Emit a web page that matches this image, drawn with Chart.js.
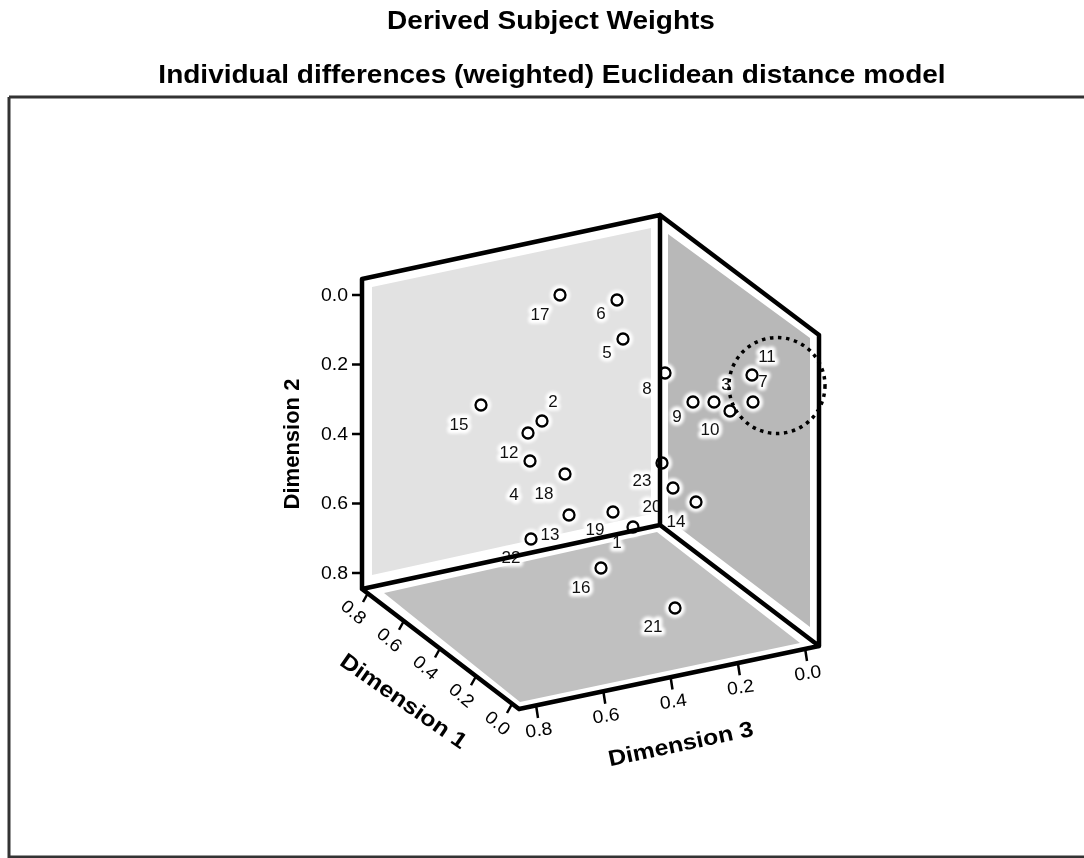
<!DOCTYPE html>
<html>
<head>
<meta charset="utf-8">
<style>html,body{margin:0;padding:0;background:#fff;overflow:hidden}canvas{display:block}</style>
<script src="https://cdn.jsdelivr.net/npm/chart.js@4"></script>
</head>
<body>
<canvas id="c" width="1084" height="858"></canvas>
<script>
// ---- data (subject number, position in the projected drawing plane) ----
const subjects = [1,2,3,4,5,6,7,8,9,10,11,12,13,14,15,16,17,18,19,20,21,22,23];
const planeX = [633,542,714,530,623,617,753,665,693,730,752,528,569,696,481,601,560,565,613,673,675,531,662];
const planeY = [527,421,402,461,339,300,402,373,402,411,375,433,515,502,405,568,295,474,512,488,608,539,463];
const labelDx = [-16,11,12,-16,-16,-16,10,-18,-16,-20,15,-19,-19,-20,-22,-20,-20,-21,-18,-21,-22,-20,-20];
const labelDy = [16,-19,-17,34,14,14,-20,16,15,19,-18,20,20,20,20,20,20,20,18,19,19,19,18];
const ticksDim1 = [0.8,0.6,0.4,0.2,0.0];
const ticksDim2 = [0.0,0.2,0.4,0.6,0.8];
const ticksDim3 = [0.8,0.6,0.4,0.2,0.0];
const titleLines = ['Derived Subject Weights','Individual differences (weighted) Euclidean distance model'];
const highlightX = [777];
const highlightY = [385.5];

// ---- projected geometry of the box ----
const C = {tl:[362,279], bl:[362,589], bt:[660,215], bb:[660,525], rt:[819,335], rb:[819,646], f:[519,709]};
const wallL = [[372,287],[651,228],[651,514],[372,575]];
const wallR = [[668,234],[810,338],[810,627],[668,519]];
const floorP = [[384,593],[657,532],[800,643],[520,702]];
const pageBox = [[9,97],[1086,97],[1086,857],[9,857],[9,97]];
const axis1 = {a:[512,704], b:[368,593], out:[-5,9], lab:[-15,20], rot:40};
const axis2 = {a:[362,295], b:[362,573], out:[-10,0]};
const axis3 = {a:[805,648], b:[536,705], out:[2,13], lab:[3,26], rot:-8};
const lerp=(p,q,t)=>[p[0]+(q[0]-p[0])*t,p[1]+(q[1]-p[1])*t];
const tickFrac=v=>v/0.8;
const pts=a=>a.map(p=>({x:p[0],y:p[1]}));
const closed=a=>pts(a.concat([a[0]]));

const frameSegs=[[C.tl,C.bl],[C.tl,C.bt],[C.bt,C.bb],[C.bt,C.rt],[C.rt,C.rb],[C.bl,C.bb],[C.bb,C.rb],[C.bl,C.f],[C.f,C.rb]];
const framePts=[];
frameSegs.forEach(s=>{framePts.push({x:s[0][0],y:s[0][1]},{x:s[1][0],y:s[1][1]},{x:null,y:null});});
const tickPts=[];
[[axis1,ticksDim1],[axis2,ticksDim2],[axis3,ticksDim3]].forEach(([ax,tk])=>{
  tk.forEach(v=>{const p=lerp(ax.a,ax.b,tickFrac(v));
    tickPts.push({x:p[0],y:p[1]},{x:p[0]+ax.out[0],y:p[1]+ax.out[1]},{x:null,y:null});});
});

const panel=(a,color,order)=>({type:'scatter',data:closed(a),showLine:true,fill:'shape',backgroundColor:color,borderWidth:0,pointRadius:0,order,blur:1.2});
const line=(data,width,order,extra)=>Object.assign({type:'scatter',data,showLine:true,spanGaps:false,borderColor:'#000',borderWidth:width,pointRadius:0,fill:false,tension:0,borderCapStyle:'round'},{order},extra||{});

const xy=planeX.map((x,i)=>({x,y:planeY[i]}));

const textPlugin={
  id:'chartText',
  afterDatasetDraw(chart,args){
    if(chart.data.datasets[args.index].id!=='halo')return;
    const ctx=chart.ctx,sx=chart.scales.x,sy=chart.scales.y;
    ctx.save();
    ctx.font='17px "Liberation Sans",Arial,sans-serif';
    ctx.textAlign='center';ctx.textBaseline='middle';
    ctx.lineJoin='round';
    subjects.forEach((s,i)=>{
      const px=sx.getPixelForValue(planeX[i]+labelDx[i]),py=sy.getPixelForValue(planeY[i]+labelDy[i]);
      ctx.filter='blur(1.5px)';ctx.strokeStyle='#fff';ctx.lineWidth=7;ctx.strokeText(String(s),px,py);
      ctx.filter='none';ctx.fillStyle='#111';ctx.fillText(String(s),px,py);
    });
    ctx.restore();
  },
  beforeDatasetDraw(chart,args){
    const d=chart.data.datasets[args.index],ctx=chart.ctx;
    ctx.save();
    if(d.blur)ctx.filter='blur('+d.blur+'px)';
    if(d.dash)ctx.setLineDash(d.dash);
  },
  afterDraw(chart){
    const ctx=chart.ctx,sx=chart.scales.x,sy=chart.scales.y;
    const T=(t,x,y,rot,font,align,stretch)=>{ctx.save();ctx.translate(sx.getPixelForValue(x),sy.getPixelForValue(y));ctx.rotate(rot*Math.PI/180);
      if(stretch)ctx.scale(stretch,1);
      ctx.font=font;ctx.textAlign=align||'center';ctx.textBaseline='middle';ctx.fillStyle='#000';ctx.fillText(t,0,0);ctx.restore();};
    const tf='18px "Liberation Sans",Arial,sans-serif';
    ticksDim2.forEach(v=>{const p=lerp(axis2.a,axis2.b,tickFrac(v));T(v.toFixed(1),p[0]-14,p[1]+1,0,tf,'right',1.08);});
    ticksDim1.forEach(v=>{const p=lerp(axis1.a,axis1.b,tickFrac(v));T(v.toFixed(1),p[0]+axis1.lab[0],p[1]+axis1.lab[1],axis1.rot,tf,'center',1.08);});
    ticksDim3.forEach(v=>{const p=lerp(axis3.a,axis3.b,tickFrac(v));T(v.toFixed(1),p[0]+axis3.lab[0],p[1]+axis3.lab[1],axis3.rot,tf,'center',1.08);});
    const af='bold 22px "Liberation Sans",Arial,sans-serif';
    T('Dimension 2',293,444,-90,af);
    T('Dimension 1',403,702,35,af,'center',1.14);
    T('Dimension 3',681,745,-12,af,'center',1.13);
    const hf='bold 25px "Liberation Sans",Arial,sans-serif';
    T(titleLines[0],551,22,0,hf,'center',1.12);
    T(titleLines[1],552,76,0,hf,'center',1.12);
  }
};
const restorePlugin={
  id:'restoreCtx',
  afterDatasetDraw(chart){chart.ctx.restore();}
};

new Chart(document.getElementById('c'),{
  type:'scatter',
  data:{datasets:[
    line(pts(pageBox),3,1,{borderColor:'#333',borderCapStyle:'butt',label:'page'}),
    {id:'highlight',data:highlightX.map((x,i)=>({x,y:highlightY[i]})),pointRadius:48,pointStyle:'circle',pointBackgroundColor:'rgba(0,0,0,0)',pointBorderColor:'#000',pointBorderWidth:3.5,showLine:false,order:2,dash:[3.5,4.6]},
    line(tickPts,2.5,3,{borderCapStyle:'butt'}),
    line(framePts,4.5,4),
    {label:'Subjects',data:xy,pointRadius:5.5,pointStyle:'circle',pointBackgroundColor:'#fff',pointBorderColor:'#000',pointBorderWidth:2.3,showLine:false,order:5},
    {id:'halo',data:xy,pointRadius:10,pointStyle:'circle',pointBackgroundColor:'#fff',pointBorderWidth:0,showLine:false,order:6,blur:1.5},
    panel(wallL,'#e2e2e2',7),
    panel(wallR,'#b8b8b8',8),
    panel(floorP,'#c0c0c0',9)
  ]},
  options:{
    responsive:false,animation:false,events:[],
    layout:{padding:0,autoPadding:false},
    plugins:{legend:{display:false},title:{display:false},tooltip:{enabled:false}},
    scales:{
      x:{type:'linear',min:0,max:1084,display:false},
      y:{type:'linear',min:0,max:858,reverse:true,display:false}
    }
  },
  plugins:[restorePlugin,textPlugin]
});
</script>
</body>
</html>
